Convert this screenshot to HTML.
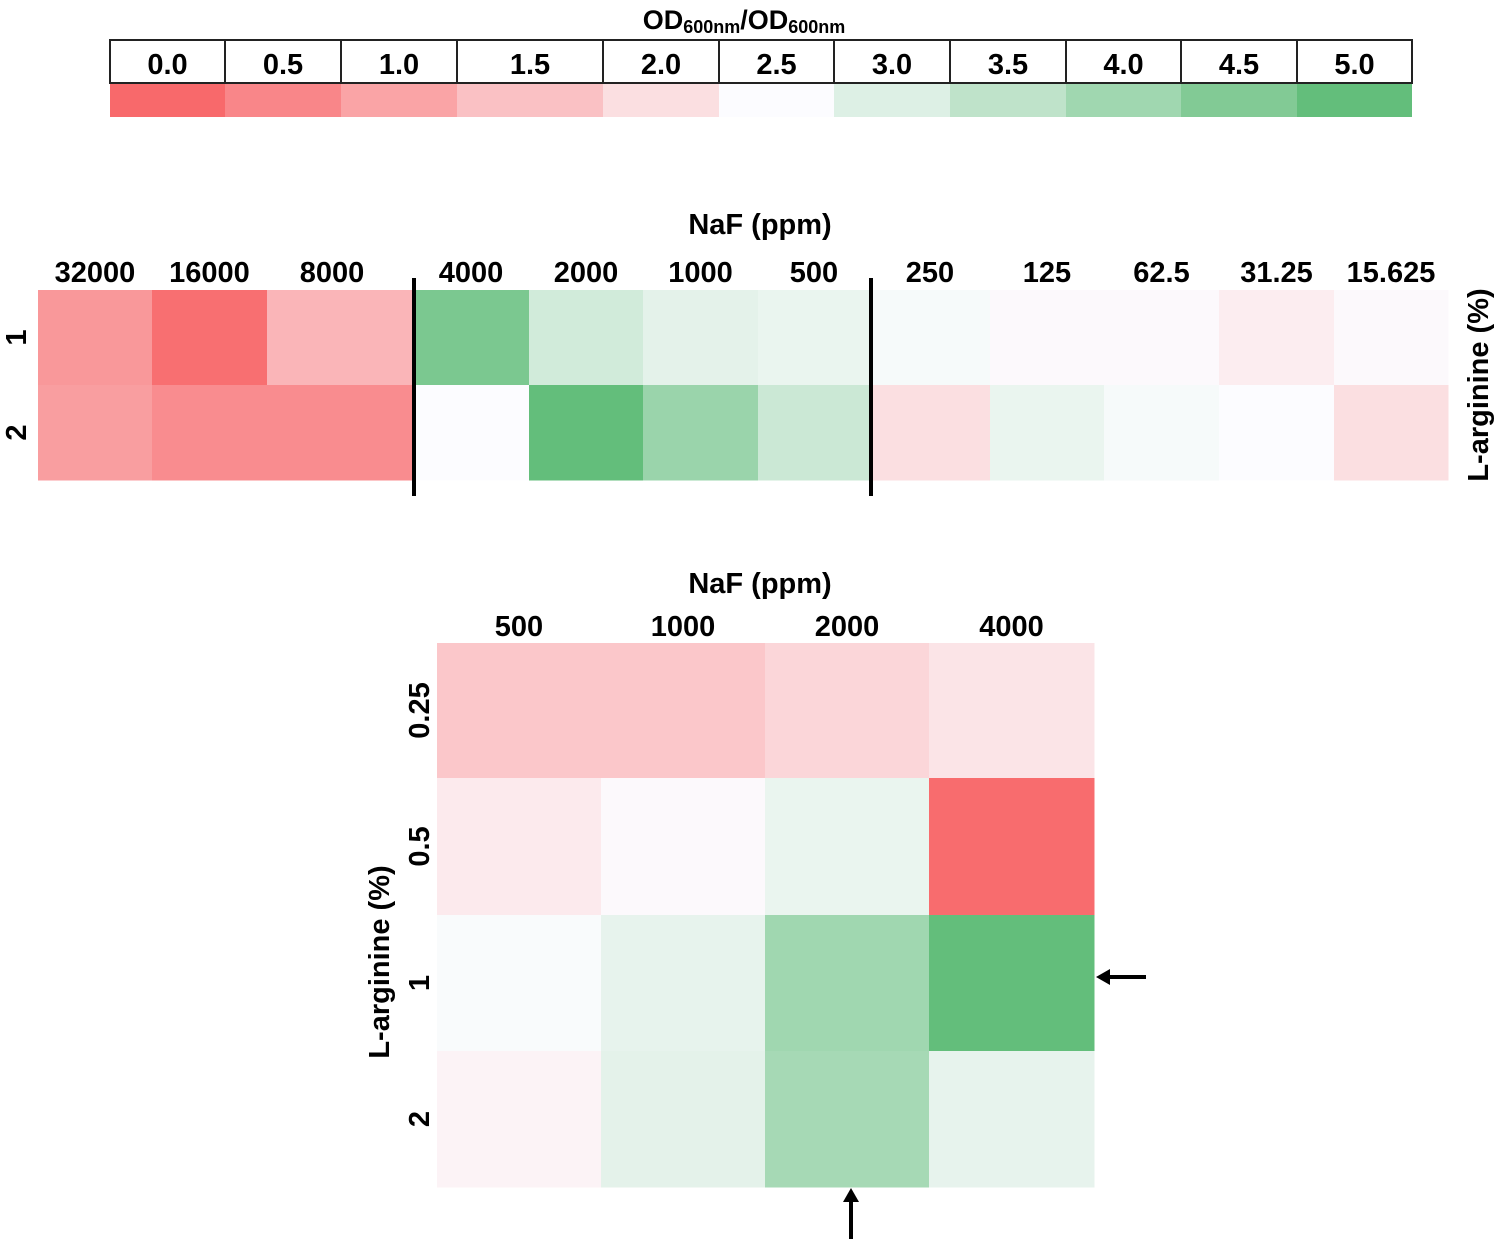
<!DOCTYPE html>
<html><head><meta charset="utf-8"><style>
html,body{margin:0;padding:0;background:#fff;}
svg{display:block;font-family:"Liberation Sans",sans-serif;font-weight:bold;}
</style></head><body>
<svg id="chart" width="1498" height="1244" viewBox="0 0 1498 1244">
<g id="legend"></g>
<g id="top"></g>
<g id="bottom"></g>
</svg>
<script>
// ---- data ----
const legendValues = [0.0,0.5,1.0,1.5,2.0,2.5,3.0,3.5,4.0,4.5,5.0];
const legendLabels = ["0.0","0.5","1.0","1.5","2.0","2.5","3.0","3.5","4.0","4.5","5.0"];
const topCategories = ["32000","16000","8000","4000","2000","1000","500","250","125","62.5","31.25","15.625"];
const topRows = ["1","2"];
const topRow1 = [0.8,0.1,1.3,4.6,3.2,2.9,2.8,2.6,2.45,2.45,2.25,2.45];
const topRow2 = [0.9,0.6,0.6,2.5,5.0,4.1,3.3,2.0,2.8,2.6,2.5,2.0];
const botCategories = ["500","1000","2000","4000"];
const botRows = ["0.25","0.5","1","2"];
const botRow025 = [1.6,1.6,1.85,2.1];
const botRow05 = [2.2,2.45,2.8,0.05];
const botRow1 = [2.55,2.85,4.0,5.0];
const botRow2 = [2.35,2.9,3.9,2.85];

const NS="http://www.w3.org/2000/svg";
const FS=29;
function mk(parent,tag,attrs,text){const e=document.createElementNS(NS,tag);for(const k in attrs)e.setAttribute(k,attrs[k]);if(text!=null)e.textContent=text;parent.appendChild(e);return e;}
function lerp(a,b,t){return Math.round(a+(b-a)*t);}
function color(v){
  const r=[248,105,107],w=[252,252,255],g=[99,190,123];
  v=Math.max(0,Math.min(5,v));
  let c;
  if(v<=2.5){const t=v/2.5;c=[lerp(r[0],w[0],t),lerp(r[1],w[1],t),lerp(r[2],w[2],t)];}
  else{const t=(v-2.5)/2.5;c=[lerp(w[0],g[0],t),lerp(w[1],g[1],t),lerp(w[2],g[2],t)];}
  return `rgb(${c[0]},${c[1]},${c[2]})`;
}

// ---- legend ----
const L=document.getElementById('legend');
const legEdges=[110,225,341,457,603,719,834,950,1066,1181,1297,1412];
let t=mk(L,'text',{x:744,y:29,'text-anchor':'middle','font-size':27});


t.innerHTML='OD<tspan font-size="18" dy="4">600nm</tspan><tspan dy="-4">/OD</tspan><tspan font-size="18" dy="4">600nm</tspan>';
legendValues.forEach((v,i)=>{
  const x0=legEdges[i],x1=legEdges[i+1];
  const b=mk(L,'rect',{x:x0,y:40,width:x1-x0,height:43,fill:'#fff',stroke:'#222','stroke-width':2});
  
  
  const tx=mk(L,'text',{x:(x0+x1)/2,y:74,'text-anchor':'middle','font-size':FS},legendLabels[i]);
  
  
  const s=mk(L,'rect',{x:x0,y:84,width:x1-x0,height:33,fill:color(v)});
  
  
});

// ---- top heatmap ----
const T=document.getElementById('top');
const topEdges=[38,152,267,413,529,643,758,870,990,1104,1219,1334,1448];
const topY=[290,385,480];
const topData=[topRow1,topRow2];
topData.forEach((row,r)=>{
  row.forEach((v,c)=>{
    const cell=mk(T,'rect',{x:topEdges[c],y:topY[r],width:topEdges[c+1]-topEdges[c]+0.5,height:topY[r+1]-topY[r]+0.5,fill:color(v)});
    
    
  });
  const rl=mk(T,'text',{transform:`translate(26,${(topY[r]+topY[r+1])/2}) rotate(-90)`,'text-anchor':'middle','font-size':FS},topRows[r]);
  
  
});
topCategories.forEach((c,i)=>{
  const tl=mk(T,'text',{x:(topEdges[i]+topEdges[i+1])/2+(i===2?-8:0),y:282,'text-anchor':'middle','font-size':FS},c);
  
  
});
let tt=mk(T,'text',{x:760,y:234,'text-anchor':'middle','font-size':FS},'NaF (ppm)');


let ty=mk(T,'text',{transform:'translate(1488,385) rotate(-90)','text-anchor':'middle','font-size':FS},'L-arginine (%)');


[414,871].forEach(x=>{
  const ln=mk(T,'line',{x1:x,x2:x,y1:278,y2:496,stroke:'#000','stroke-width':4});
  
  
});

// ---- bottom heatmap ----
const B=document.getElementById('bottom');
const bx=[437,601,765,929,1094];
const by=[643,778,915,1051,1187];
const botData=[botRow025,botRow05,botRow1,botRow2];
botData.forEach((row,r)=>{
  row.forEach((v,c)=>{
    const cell=mk(B,'rect',{x:bx[c],y:by[r],width:bx[c+1]-bx[c]+0.5,height:by[r+1]-by[r]+0.5,fill:color(v)});
    
    
  });
  const rl=mk(B,'text',{transform:`translate(429,${(by[r]+by[r+1])/2}) rotate(-90)`,'text-anchor':'middle','font-size':FS},botRows[r]);
  
  
});
botCategories.forEach((c,i)=>{
  const tl=mk(B,'text',{x:(bx[i]+bx[i+1])/2,y:636,'text-anchor':'middle','font-size':FS},c);
  
  
});
let bt=mk(B,'text',{x:760,y:593,'text-anchor':'middle','font-size':FS},'NaF (ppm)');


let byt=mk(B,'text',{transform:'translate(389,962) rotate(-90)','text-anchor':'middle','font-size':FS},'L-arginine (%)');


// arrows
let a1=mk(B,'g',{});


mk(a1,'line',{x1:1146,y1:977,x2:1106,y2:977,stroke:'#000','stroke-width':4});
mk(a1,'polygon',{points:'1096,977 1110,969 1110,985',fill:'#000'});
let a2=mk(B,'g',{});


mk(a2,'line',{x1:851,y1:1239,x2:851,y2:1198,stroke:'#000','stroke-width':4});
mk(a2,'polygon',{points:'851,1188 843,1202 859,1202',fill:'#000'});
</script>
</body></html>
